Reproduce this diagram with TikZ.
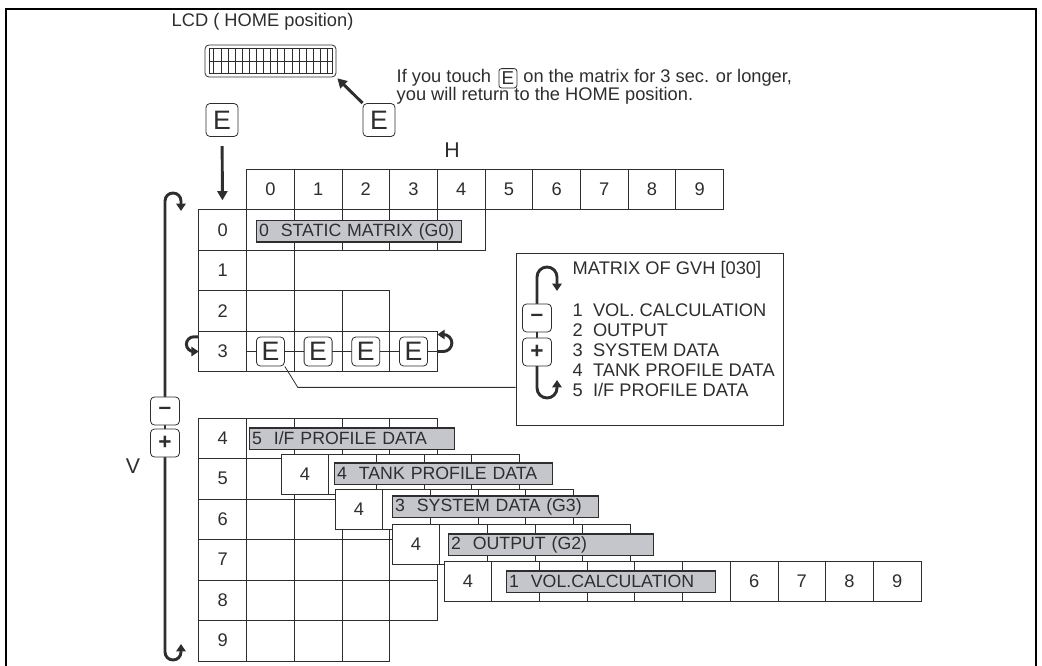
\documentclass[tikz,border=0pt]{standalone}
\usepackage{fontspec}
\setmainfont{Liberation Sans}
\usetikzlibrary{arrows.meta, positioning}

\definecolor{ink}{HTML}{2E2E2E}
\definecolor{barfill}{HTML}{C4C6CC}

\begin{document}
\begin{tikzpicture}[
        x=0.75pt, y=0.75pt,
        every node/.style={font=\fontsize{13.7}{15}\selectfont, text=ink},
        cell/.style={draw=ink, line width=0.6pt, fill=white, minimum width=35.78pt,
                     minimum height=30.4pt, inner sep=0pt, outer sep=0pt},
        grp/.style={draw=ink, line width=0.8pt, fill=barfill, anchor=west,
                    minimum height=15.8pt, inner xsep=2pt, inner ysep=0pt, align=left,
                    font=\fontsize{13.3}{15}\selectfont},
        key/.style={draw=ink, line width=0.6pt, fill=white, rounded corners=3pt,
                    inner sep=0pt, minimum width=24pt, minimum height=24.75pt,
                    font=\fontsize{20}{20}\selectfont},
        rowkey/.style={key, minimum width=21pt, minimum height=21.75pt},
        pmkey/.style={key, minimum width=21.75pt, minimum height=21pt,
                      font=\fontsize{17}{17}\selectfont\bfseries},
        inkey/.style={key, minimum width=13.5pt, minimum height=14.5pt, rounded corners=2pt,
                      font=\fontsize{14}{14}\selectfont},
        bar/.style={line width=2.2pt, draw=ink},
        arr/.style={bar, -{Triangle[length=7pt, width=7.5pt]}},
        hook/.style={bar, -{Triangle[length=5.5pt, width=7pt]}},
        link/.style={line width=0.6pt, draw=ink},
    ]
        \useasboundingbox (0,0) rectangle (1042,-666);
        \draw[line width=1.8pt] (6,-666) -- (6,-9) -- (1036,-9) -- (1036,-666);

        % LCD
        \node[anchor=west] (lcdtext) at (167,-22) {LCD ( HOME position)};
        \node[draw=ink, line width=0.6pt, rounded corners=3pt, minimum width=98.25pt,
              minimum height=24pt, inner sep=0pt] (lcd) at (270.5,-61) {};
        \draw[link, line width=0.5pt] (209,-48.5) rectangle (332,-73.5);
        \foreach \i in {0,...,16} \draw[link, line width=0.4pt] (213.7+7.1*\i,-48.5) -- ++(0,-25);
        \draw[link, line width=0.4pt] (209,-61) -- (332,-61);

        % E keys on top
        \node[key] (etop) at (222,-120) {E};
        \node[key] (eback) at (379,-120) {E};
        \draw[arr, shorten >=1pt] (eback.north west) -- (lcd.south east);

        % Note
        \node[anchor=base west] (touch) at (392,-83) {If you touch};
        \node[inkey, right=2pt of touch] (einline) {E};
        \node[right=1pt of einline] (touchend) {on the matrix for 3 sec. or longer,};
        \node[anchor=base west] (touchnext) at (392,-101) {you will return to the HOME position.};

        % Matrix head
        \node[font=\fontsize{16}{16}\selectfont] (hlabel) at (452,-150) {H};
        \foreach \c in {0,...,9} \node[cell] (h\c) at (270.4+47.7*\c,-189.5) {\c};

        % Rows 0-3
        \foreach \r/\n in {0/4, 1/0, 2/2, 3/3} {
            \node[cell] (r\r) at (222.6,-230-40.5*\r) {\r};
            \foreach \c in {0,...,\n} \node[cell] (c\r\c) at (270.4+47.7*\c,-230-40.5*\r) {};
        }
        \node[grp, text width=149.75pt] (g0) at (256,-231.5) {0\ \ STATIC MATRIX (G0)};
        \draw[arr, shorten <=7pt, shorten >=7pt] (etop) -- (r0);

        % Row 3 keys
        \draw[link, line width=1.4pt] (r3.east) -- (c33.east);
        \draw[hook] (c33.east) -- ++(6,0) arc[start angle=-90, end angle=90, radius=8.5] -- ++(-6,0);
        \draw[hook] ([yshift=11pt]r3.west) -- ++(-5,0) arc[start angle=90, end angle=270, radius=7.35] -- ++(5,0);
        \foreach \c in {0,...,3} \node[rowkey] (k\c) at (c3\c) {E};

        % Matrix of GVH
        \node[draw=ink, line width=0.6pt, minimum width=200.25pt, minimum height=129pt,
              inner sep=0pt] (gvhbox) at (649.5,-339) {};
        \draw[link] (k0.south east) -- ++(13,-21) coordinate (kbend) -- (kbend -| gvhbox.west);
        \node[anchor=west] (gvhtitle) at (568,-270) {MATRIX OF GVH [030]};
        \node[below=12pt of gvhtitle.south west, anchor=north west, align=left] (gvhlist)
            {1\ \ VOL. CALCULATION\\2\ \ OUTPUT\\3\ \ SYSTEM DATA\\4\ \ TANK PROFILE DATA\\5\ \ I/F PROFILE DATA};
        \coordinate (gm) at (537,-318);
        \coordinate (gp) at (537,-352);
        \draw[bar] (gm) -- (gp);
        \draw[hook] (gm) -- ++(0,41) arc[start angle=180, end angle=0, radius=10] -- ++(0,-14);
        \draw[hook] (gp) -- ++(0,-36) arc[start angle=180, end angle=360, radius=10] -- ++(0,8);
        \node[pmkey] (gminus) at (gm) {--};
        \node[pmkey] (gplus) at (gp) {+};

        % V bar
        \coordinate (vm) at (165,-411);
        \coordinate (vp) at (165,-443);
        \draw[bar] (vm) -- (vp);
        \draw[hook] (vm) -- ++(0,210) arc[start angle=180, end angle=0, radius=8] -- ++(0,-10);
        \draw[hook] (vp) -- ++(0,-209) arc[start angle=180, end angle=360, radius=8] -- ++(0,8);
        \node[pmkey] (vminus) at (vm) {--};
        \node[pmkey] (vplus) at (vp) {+};
        \node[font=\fontsize{16}{16}\selectfont] (vlabel) at (133,-466) {V};

        % Rows 4-9
        \foreach \r/\n in {4/3, 5/3, 6/3, 7/3, 8/3, 9/2} {
            \node[cell] (r\r) at (222.6,{-438.2-40.5*(\r-4)}) {\r};
            \foreach \c in {0,...,\n} \node[cell] (c\r\c) at (270.4+47.7*\c,{-438.2-40.5*(\r-4)}) {};
        }
        \node[grp, text width=149.75pt] (g5) at (249,-438.5) {5\ \ I/F PROFILE DATA};

        % Group sheets
        \node[cell] (t0) at (304.85,-474.25) {4};
        \foreach \c in {1,...,4} \node[cell] (t\c) at ([xshift=35.78pt*\c]t0) {};
        \node[grp, text width=159.5pt] (g4) at (334,-473.5) {4\ \ TANK PROFILE DATA};

        \node[cell] (s0) at (358.85,-509.25) {4};
        \foreach \c in {1,...,4} \node[cell] (s\c) at ([xshift=35.78pt*\c]s0) {};
        \node[grp, text width=150.5pt] (g3) at (392,-506.5) {3\ \ SYSTEM DATA (G3)};

        \node[cell] (o0) at (415.85,-544.25) {4};
        \foreach \c in {1,...,4} \node[cell] (o\c) at ([xshift=35.78pt*\c]o0) {};
        \node[grp, text width=149.75pt] (g2) at (448,-544.5) {2\ \ OUTPUT (G2)};

        \node[cell] (v0) at (467.85,-581.25) {4};
        \foreach \c in {1,...,9} \node[cell] (v\c) at ([xshift=35.78pt*\c]v0) {\ifnum\c>5 \c\fi};
        \node[grp, text width=152.75pt] (g1) at (506,-581.5) {1\ \ VOL.CALCULATION};
    \end{tikzpicture}
\end{document}
